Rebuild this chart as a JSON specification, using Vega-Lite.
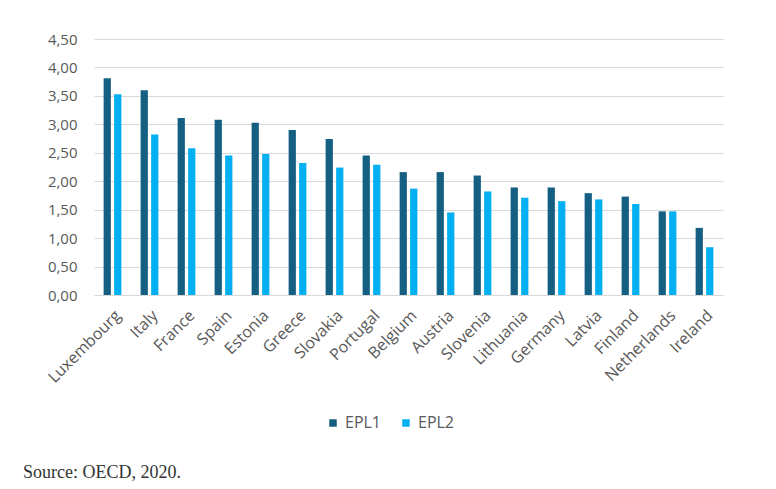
{
  "$schema": "https://vega.github.io/schema/vega-lite/v6.json",
  "autosize": "none",
  "width": 629,
  "height": 256,
  "padding": {"left": 94, "top": 39, "right": 53, "bottom": 194},
  "background": "white",
  "title": {
    "text": "Source: OECD, 2020.",
    "orient": "bottom",
    "anchor": "start",
    "frame": "bounds",
    "font": "Liberation Serif",
    "fontSize": 18,
    "fontWeight": "normal",
    "color": "#333333",
    "dx": -22,
    "offset": 33
  },
  "data": {
    "values": [
      {"country": "Luxembourg", "series": "EPL1", "value": 3.81},
      {"country": "Luxembourg", "series": "EPL2", "value": 3.53},
      {"country": "Italy", "series": "EPL1", "value": 3.60},
      {"country": "Italy", "series": "EPL2", "value": 2.82},
      {"country": "France", "series": "EPL1", "value": 3.11},
      {"country": "France", "series": "EPL2", "value": 2.58},
      {"country": "Spain", "series": "EPL1", "value": 3.08},
      {"country": "Spain", "series": "EPL2", "value": 2.45},
      {"country": "Estonia", "series": "EPL1", "value": 3.03},
      {"country": "Estonia", "series": "EPL2", "value": 2.48},
      {"country": "Greece", "series": "EPL1", "value": 2.90},
      {"country": "Greece", "series": "EPL2", "value": 2.32},
      {"country": "Slovakia", "series": "EPL1", "value": 2.74},
      {"country": "Slovakia", "series": "EPL2", "value": 2.24},
      {"country": "Portugal", "series": "EPL1", "value": 2.45},
      {"country": "Portugal", "series": "EPL2", "value": 2.29},
      {"country": "Belgium", "series": "EPL1", "value": 2.16},
      {"country": "Belgium", "series": "EPL2", "value": 1.87},
      {"country": "Austria", "series": "EPL1", "value": 2.16},
      {"country": "Austria", "series": "EPL2", "value": 1.45},
      {"country": "Slovenia", "series": "EPL1", "value": 2.10},
      {"country": "Slovenia", "series": "EPL2", "value": 1.82},
      {"country": "Lithuania", "series": "EPL1", "value": 1.89},
      {"country": "Lithuania", "series": "EPL2", "value": 1.71},
      {"country": "Germany", "series": "EPL1", "value": 1.89},
      {"country": "Germany", "series": "EPL2", "value": 1.65},
      {"country": "Latvia", "series": "EPL1", "value": 1.79},
      {"country": "Latvia", "series": "EPL2", "value": 1.68},
      {"country": "Finland", "series": "EPL1", "value": 1.73},
      {"country": "Finland", "series": "EPL2", "value": 1.60},
      {"country": "Netherlands", "series": "EPL1", "value": 1.47},
      {"country": "Netherlands", "series": "EPL2", "value": 1.47},
      {"country": "Ireland", "series": "EPL1", "value": 1.18},
      {"country": "Ireland", "series": "EPL2", "value": 0.84}
    ]
  },
  "mark": {"type": "bar"},
  "encoding": {
    "x": {
      "field": "country",
      "type": "nominal",
      "sort": null,
      "title": null,
      "scale": {"paddingInner": 0.52, "paddingOuter": 0.26},
      "axis": {
        "labelAngle": -45,
        "labelFont": "Open Sans",
        "labelFontSize": 16,
        "labelColor": "#595959",
        "labelPadding": 12,
        "ticks": false,
        "domainColor": "#d9d9d9",
        "domainWidth": 1,
        "grid": false
      }
    },
    "xOffset": {
      "field": "series",
      "type": "nominal",
      "scale": {"paddingInner": 0.31, "paddingOuter": 0}
    },
    "y": {
      "field": "value",
      "type": "quantitative",
      "title": null,
      "scale": {"domain": [0, 4.5], "nice": false},
      "axis": {
        "values": [0, 0.5, 1, 1.5, 2, 2.5, 3, 3.5, 4, 4.5],
        "labelExpr": "replace(format(datum.value, '.2f'), '.', ',')",
        "labelFont": "Open Sans",
        "labelFontSize": 15,
        "labelColor": "#595959",
        "labelPadding": 17,
        "ticks": false,
        "domain": false,
        "grid": true,
        "gridColor": "#d9d9d9",
        "gridWidth": 1
      }
    },
    "color": {
      "field": "series",
      "type": "nominal",
      "scale": {"domain": ["EPL1", "EPL2"], "range": ["#156082", "#00B0F0"]},
      "legend": {
        "title": null,
        "orient": "none",
        "legendX": 231,
        "legendY": 376,
        "direction": "horizontal",
        "symbolType": "square",
        "symbolSize": 56,
        "symbolStrokeWidth": 0,
        "labelFont": "Open Sans",
        "labelFontSize": 16,
        "labelColor": "#595959",
        "labelOffset": 4,
        "columnPadding": 16
      }
    }
  },
  "config": {
    "view": {"stroke": null}
  }
}
